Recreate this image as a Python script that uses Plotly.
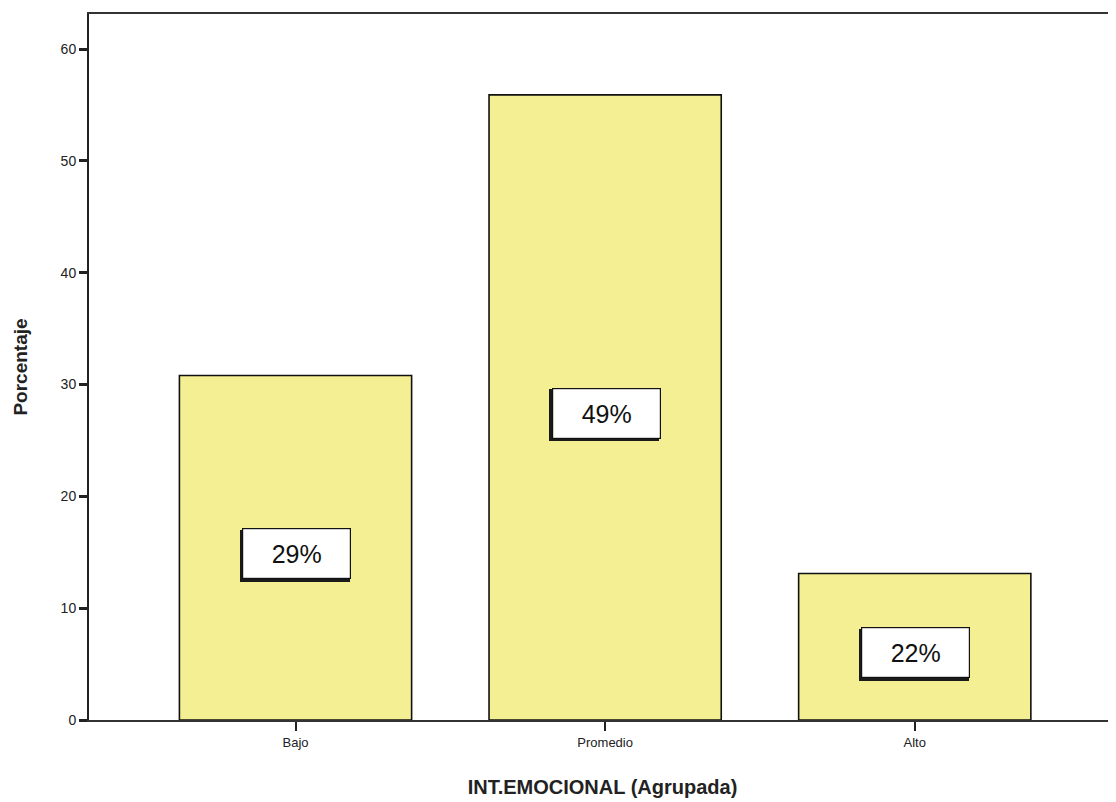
import plotly.graph_objects as go

categories = ["Bajo", "Promedio", "Alto"]
percent_values = [30.8, 55.9, 13.1]
box_labels = ["29%", "49%", "22%"]
y_tick_values = [0, 10, 20, 30, 40, 50, 60]

BAR_COLOR = "#F4EF92"
FONT = "Liberation Sans, Arial, sans-serif"

fig = go.Figure()
fig.add_trace(go.Bar(
    x=categories, y=percent_values,
    marker=dict(color=BAR_COLOR, line=dict(color="#111111", width=1.6)),
    width=0.75, hoverinfo="skip",
))

annotations = []
for cat, val, lab in zip(categories, percent_values, box_labels):
    # shadow (left / bottom)
    annotations.append(dict(
        x=cat, y=val / 2, xref="x", yref="y", text=" ", showarrow=False,
        width=108, height=50, bgcolor="#1a1a1a", borderwidth=0,
        xshift=-1, yshift=-8,
    ))
    annotations.append(dict(
        x=cat, y=val / 2, xref="x", yref="y", text=lab, showarrow=False,
        font=dict(family=FONT, size=25, color="#111111"),
        width=107, height=49, bgcolor="white", bordercolor="#111111",
        borderwidth=1.2, borderpad=0, xshift=1, yshift=-6,
    ))

fig.update_layout(
    width=1108, height=794,
    margin=dict(l=81, r=0, t=6, b=82),
    paper_bgcolor="white", plot_bgcolor="white",
    showlegend=False,
    annotations=annotations,
    font=dict(family=FONT, color="#111111"),
    xaxis=dict(
        range=[-0.667, 2.65],
        showline=True, linecolor="#333333", linewidth=2, mirror=True,
        ticks="outside", ticklen=9, tickwidth=1.5, tickcolor="#222222",
        tickfont=dict(family=FONT, size=13, color="#222222"),
        showgrid=False, zeroline=False,
        title=dict(text="<b>INT.EMOCIONAL (Agrupada)</b>",
                   font=dict(family=FONT, size=20, color="#222222"), standoff=31),
    ),
    yaxis=dict(
        range=[0, 63.13],
        tickvals=y_tick_values,
        showline=True, linecolor="#222222", linewidth=2,
        ticks="outside", ticklen=8, tickwidth=2.5, tickcolor="#222222",
        tickfont=dict(family=FONT, size=14, color="#222222"),
        showgrid=False, zeroline=False,
        title=dict(text="<b>Porcentaje</b>",
                   font=dict(family=FONT, size=19, color="#222222"), standoff=28),
    ),
)

fig.write_html("out.html")
